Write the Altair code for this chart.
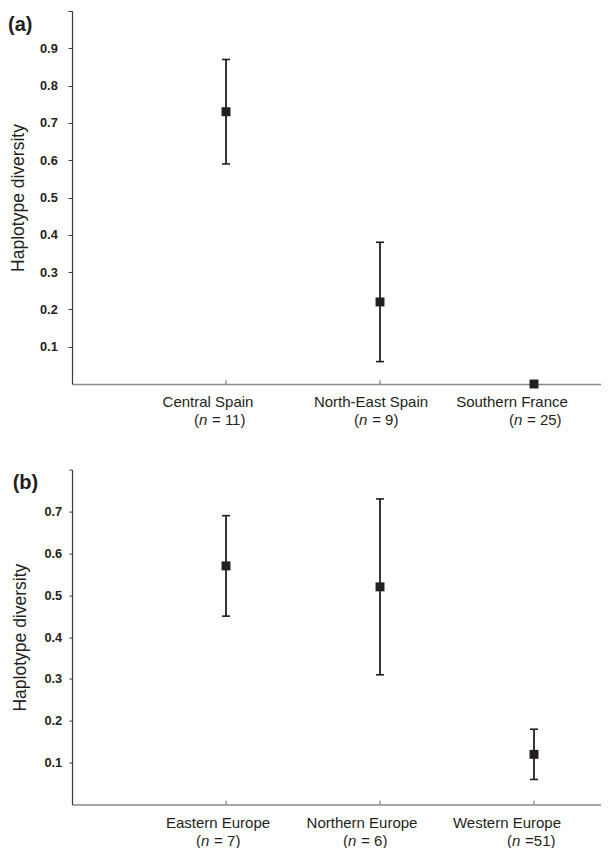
import altair as alt
import pandas as pd

# ---------------- data ----------------
a_regions = ["Central Spain", "North-East Spain", "Southern France"]
a_nlabels = ["(n = 11)", "(n = 9)", "(n = 25)"]
a_hd = [0.73, 0.22, 0.0]
a_lo = [0.59, 0.06, None]
a_hi = [0.87, 0.38, None]

b_regions = ["Eastern Europe", "Northern Europe", "Western Europe"]
b_nlabels = ["(n = 7)", "(n = 6)", "(n =51)"]
b_hd = [0.57, 0.52, 0.12]
b_lo = [0.45, 0.31, 0.06]
b_hi = [0.69, 0.73, 0.18]

positions = [1, 2, 3]

# ---------------- style ----------------
FONT = "Liberation Sans"
INK = "#231f20"
W = 529
XMAX = 3.435
PX = W / XMAX            # pixels per x unit
FS = 15                  # category label font size

# label centre offsets (px) relative to each category position
a_off1 = [-18, -9, -22]
a_off2 = [-6, -4, 1]
b_off1 = [-8, -18, -27]
b_off2 = [-8, -15, -3]

CW = {' ': 278, '(': 333, ')': 333, '=': 584, 'n': 556}


def tw(s):
    return sum(CW.get(c, 556) for c in s) * FS / 1000.0


def build(regions, nlabels, hd, lo, hi, off1, off2):
    rows = []
    for r, nl, v, l, h, p, o1, o2 in zip(regions, nlabels, hd, lo, hi, positions, off1, off2):
        rest = nl[2:]
        stripped = rest.lstrip(" ")
        lead = tw(rest[:len(rest) - len(stripped)]) + 0.5
        total = tw("(") + tw("n") + tw(rest)
        start = o2 - total / 2
        rows.append(dict(
            region=r, pos=p, hd=v, lo=l, hi=h, rest=stripped,
            x1=p + o1 / PX,
            xp=p + start / PX,
            xn=p + (start + tw("(")) / PX,
            xr=p + (start + tw("(") + tw("n") + lead) / PX,
        ))
    return pd.DataFrame(rows)


def panel(df, ymax, H, tag, tagx, tagy, label_pad, tick_size, title_x):
    xs = alt.Scale(domain=[0, XMAX], nice=False, zero=False)
    ys = alt.Scale(domain=[0, ymax], nice=False, zero=True)
    nt = int(round(ymax * 10))
    tick_vals = [round(0.1 * i, 1) for i in range(1, nt + 1)]
    base = alt.Chart(df)

    x_axis = alt.Axis(labels=False, ticks=False, grid=False, title=None,
                      domainColor="#8a8a8a", domainWidth=1.5)
    y_axis = alt.Axis(
        values=tick_vals, format=".1f", grid=False,
        labelExpr=f"datum.value > {ymax - 0.05} ? '' : datum.label",
        labelFont=FONT, labelFontSize=12.8, labelFontWeight="bold",
        labelColor=INK, labelPadding=label_pad,
        tickSize=tick_size, tickColor="#3a3a3a", tickWidth=1,
        domainColor="#3a3a3a", domainWidth=1.2,
        title="Haplotype diversity", titleFont=FONT, titleFontSize=17.5,
        titleFontWeight="normal", titleColor=INK,
        titleX=title_x, titleY=H / 2, titleBaseline="alphabetic", titleAngle=270)

    def X(f):
        return alt.X(f"{f}:Q", scale=xs, axis=x_axis)

    def Y(f):
        return alt.Y(f"{f}:Q", scale=ys, axis=y_axis)

    pts = base.mark_square(size=80, filled=True, color=INK, opacity=1, strokeWidth=0).encode(
        x=X("pos"), y=Y("hd"))

    eb = base.transform_filter("isValid(datum.lo)")
    bars = eb.mark_rule(color=INK, strokeWidth=1.8).encode(
        x=X("pos"), y=Y("lo"), y2="hi:Q")
    cap_lo = eb.mark_tick(orient="horizontal", color=INK, size=8, thickness=1.6, opacity=1).encode(
        x=X("pos"), y=Y("lo"))
    cap_hi = eb.mark_tick(orient="horizontal", color=INK, size=8, thickness=1.6, opacity=1).encode(
        x=X("pos"), y=Y("hi"))
    xticks = base.mark_rule(color="#6a6a6a", strokeWidth=1).encode(
        x=X("pos"), y=alt.value(H), y2=alt.value(H - 4))

    def txt(field_x, text, y, style="normal"):
        return base.mark_text(align="left", baseline="alphabetic", font=FONT,
                              fontSize=FS, fontStyle=style, color=INK).encode(
            x=X(field_x), y=alt.value(y), text=text)

    line1 = base.mark_text(align="center", baseline="alphabetic", font=FONT,
                           fontSize=FS, color=INK).encode(
        x=X("x1"), y=alt.value(H + 23), text="region:N")
    paren = txt("xp", alt.value("("), H + 41)
    nital = txt("xn", alt.value("n"), H + 41, "italic")
    rest = txt("xr", alt.Text("rest:N"), H + 41)

    tagt = alt.Chart(pd.DataFrame({"t": [tag]})).mark_text(
        align="left", baseline="alphabetic", font=FONT, fontSize=20,
        fontWeight="bold", color=INK).encode(
        x=alt.value(tagx), y=alt.value(tagy), text="t:N")

    return alt.layer(bars, cap_lo, cap_hi, xticks, line1, paren, nital, rest, tagt,
                     pts).properties(width=W, height=H)


dfa = build(a_regions, a_nlabels, a_hd, a_lo, a_hi, a_off1, a_off2)
dfb = build(b_regions, b_nlabels, b_hd, b_lo, b_hi, b_off1, b_off2)

pa = panel(dfa, 1.0, 373, "(a)", -64, 19.6, 10.7, 4, -49)
pb = panel(dfb, 0.8, 335, "(b)", -59.3, 19.7, 7.3, 3, -47)

chart = alt.vconcat(pa, pb, spacing=85.6, bounds="flush").properties(
    padding={"left": 0, "top": 2, "right": 0, "bottom": 0}
).configure(background="white").configure_view(stroke=None)

chart.save("out.html", embed_options={"renderer": "svg", "actions": False})
